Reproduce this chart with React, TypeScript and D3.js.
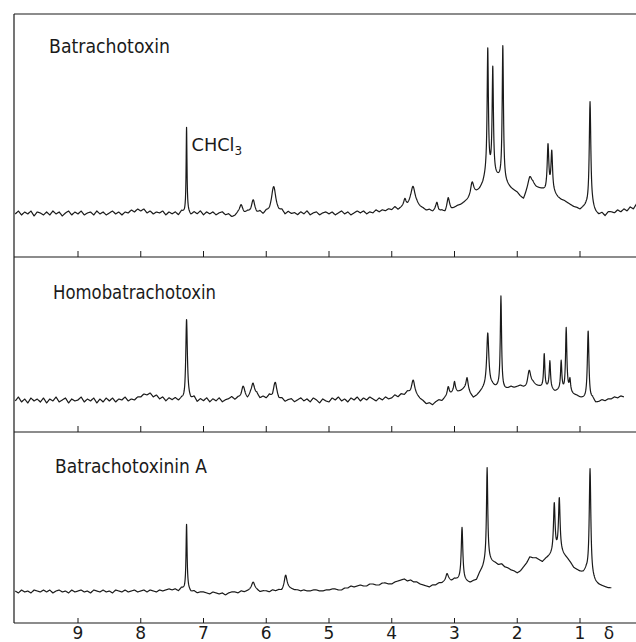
import React, { useMemo } from 'react';
import * as d3 from 'd3';

const WIDTH = 636;
const HEIGHT = 642;

// chemical shift axis (ppm, delta)
const ppmTicks = [9, 8, 7, 6, 5, 4, 3, 2, 1];
const BASE_START = 10.0;
const BASE_STEP = 0.05;

// baselines (with their noise), ppm 10.0 downwards in 0.05 steps
const btxBaseline = [
  1, 4, 0, 3, 1, 4, -1, 3, 2, 0,
  3, 0, 4, 1, 3, -1, 2, 4, 0, 3,
  1, 4, 0, 2, 3, 0, 4, 1, 3, 0,
  2, 4, 1, 3, 0, 3, 2, 5, 3, 6,
  4, 6, 2, 4, 1, 3, 2, 4, 0, 3,
  1, 3, 0, 4, 2, 3, 0, 3, 1, 4,
  0, 3, 1, 3, 0, 2, 3, 0, 1, -2,
  -1, 2, 3, 1, 3, 2, 4, 1, 3, 0,
  3, 2, 5, 3, 2, 4, 0, 3, 1, 2,
  0, 3, 1, 4, 0, 2, 3, 0, 2, 3,
  1, 3, 0, 2, 4, 1, 3, 0, 2, 4,
  2, 4, 1, 3, 2, 5, 3, 5, 4, 6,
  5, 8, 5, 7, 9, 8, 10, 8, 9, 7,
  6, 4, 5, 3, 5, 3, 4, 2, 7, 5,
  7, 9, 10, 12, 14, 16, 20, 22, 25, 30,
  38, 40, 42, 38, 36, 34, 32, 29, 26, 24,
  22, 18, 15, 22, 28, 30, 27, 26, 25, 23,
  24, 22, 20, 17, 15, 14, 12, 10, 8, 7,
  5, 7, 8, 5, 6, 2, 0, 2, -1, 3,
  3, 2, 5, 3, 6, 4, 8, 6, 11,
];
const homoBaseline = [
  1, 5, 0, 3, -1, 4, 1, 3, 0, 4,
  -1, 3, 1, 5, 0, 2, 4, -1, 3, 1,
  2, 5, 0, 3, 1, 4, -1, 3, 0, 4,
  1, 4, 0, 3, 2, 5, 1, 3, 2, 5,
  5, 8, 7, 9, 5, 7, 3, 5, 1, 4,
  2, 4, 1, 3, 0, 4, 2, 5, 0, 3,
  1, 4, 0, 3, 1, 4, 0, 2, 3, 5,
  2, 4, 3, 5, 2, 6, 4, 7, 3, 5,
  3, 6, 2, 5, 1, 3, 0, 2, 3, 0,
  2, 4, 1, 3, 0, 4, 2, -1, 3, 1,
  0, 4, 2, 5, 1, 3, 0, 4, 2, 5,
  1, 4, 2, 5, 3, 1, 4, 2, 5, 3,
  4, 7, 5, 8, 7, 10, 8, 9, 6, 3,
  1, -2, -1, -3, 0, 2, 1, 4, 5, 8,
  12, 10, 11, 13, 14, 8, 4, 6, 9, 12,
  14, 15, 16, 14, 14, 12, 12, 13, 15, 14,
  15, 16, 14, 13, 16, 18, 16, 15, 14, 13,
  14, 12, 10, 11, 12, 10, 12, 9, 7, 6,
  4, 3, 2, 0, 3, -1, 0, 2, 1, 3,
  3, 5, 4, 6, 5,
];
const btxABaseline = [
  2, 0, 3, 1, 2, 0, 3, 2, 1, 3,
  1, 3, 0, 2, 3, 1, 2, 0, 3, 1,
  2, 3, 1, 2, 0, 3, 2, 1, 3, 1,
  2, 0, 3, 2, 1, 3, 1, 2, 3, 1,
  2, 3, 1, 3, 2, 1, 3, 2, 3, 4,
  3, 4, 2, 5, 3, 4, 1, 2, 0, 1,
  1, 0, -1, 1, 0, -1, 0, -2, 0, 1,
  1, 0, 2, 1, 2, 3, 4, 3, 1, 2,
  2, 1, 3, 2, 3, 2, 6, 5, 4, 3,
  3, 2, 3, 2, 2, 3, 3, 2, 2, 3,
  3, 4, 4, 3, 3, 5, 5, 7, 6, 7,
  8, 7, 7, 9, 9, 8, 8, 10, 10, 9,
  9, 11, 12, 13, 14, 12, 13, 11, 11, 9,
  8, 7, 6, 8, 8, 10, 10, 12, 14, 12,
  14, 13, 13, 12, 11, 10, 12, 13, 20, 25,
  32, 33, 31, 30, 28, 29, 26, 25, 23, 22,
  20, 22, 26, 30, 36, 35, 35, 33, 31, 34,
  36, 38, 40, 41, 40, 37, 34, 30, 25, 23,
  21, 20, 22, 18, 14, 10, 8, 7, 6, 5,
  5,
];

// peaks: [ppm, height above baseline, half width (ppm)]
const btxPeaks = [
  [7.27, 85, 0.008], [6.4, 7, 0.03], [6.21, 11, 0.03], [5.88, 24, 0.04],
  [3.79, 6, 0.02], [3.66, 20, 0.04], [3.28, 8, 0.02], [3.1, 10, 0.025],
  [2.72, 14, 0.03], [2.47, 125, 0.012], [2.39, 104, 0.012], [2.23, 135, 0.012],
  [1.8, 10, 0.04], [1.51, 45, 0.015], [1.45, 40, 0.015], [0.84, 108, 0.015],
];
const homoPeaks = [
  [7.27, 80, 0.015], [6.37, 11, 0.03], [6.21, 14, 0.03], [5.86, 15, 0.035],
  [3.66, 13, 0.03], [3.1, 10, 0.02], [3.0, 8, 0.015], [2.8, 10, 0.02],
  [2.47, 54, 0.02], [2.26, 93, 0.012], [1.81, 16, 0.03], [1.57, 34, 0.012],
  [1.48, 27, 0.012], [1.3, 28, 0.012], [1.22, 62, 0.012], [1.16, 12, 0.012],
  [0.87, 70, 0.015],
];
const btxAPeaks = [
  [7.27, 65, 0.01], [6.21, 7, 0.03], [5.69, 12, 0.025], [3.12, 6, 0.02],
  [2.88, 53, 0.015], [2.48, 93, 0.012], [1.41, 49, 0.015], [1.33, 53, 0.015],
  [0.84, 107, 0.015],
];

const spectrumNames = ['Batrachotoxin', 'Homobatrachotoxin', 'Batrachotoxinin A'];
const baselines = [btxBaseline, homoBaseline, btxABaseline];
const peakLists = [btxPeaks, homoPeaks, btxAPeaks];

// panel geometry
const panels = [
  { top: 14, bottom: 257, base: 215, labelX: 49, labelY: 53, labelLen: 121 },
  { top: 257, bottom: 432, base: 402, labelX: 53, labelY: 299, labelLen: 163 },
  { top: 432, bottom: 623, base: 593, labelX: 55, labelY: 473, labelLen: 152 },
];

const LEFT = 14;
const INK = '#1a1a1a';
const FONT = '"DejaVu Sans", sans-serif';

function buildTrace(baseline: number[], peaks: number[][]) {
  const end = BASE_START - (baseline.length - 1) * BASE_STEP;
  const grid: number[] = [];
  const n = Math.round((BASE_START - end) / 0.004);
  for (let k = 0; k <= n; k++) grid.push(BASE_START - k * 0.004);
  peaks.forEach(p => grid.push(p[0]));
  grid.sort((a, b) => b - a);
  return grid.map(ppm => {
    const f = (BASE_START - ppm) / BASE_STEP;
    const i = Math.max(0, Math.min(Math.floor(f), baseline.length - 2));
    const t = f - i;
    let v = baseline[i] * (1 - t) + baseline[i + 1] * t;
    for (const [c, h, w] of peaks) v += h / (1 + ((ppm - c) / w) ** 2);
    return [ppm, v] as [number, number];
  });
}

export default function App() {
  const x = d3.scaleLinear().domain([9, 1]).range([78, 580]);

  const traces = useMemo(
    () => baselines.map((b, i) => buildTrace(b, peakLists[i])),
    []
  );

  return (
    <svg
      width={WIDTH}
      height={HEIGHT}
      style={{ position: 'absolute', left: 0, top: 0, background: '#fff' }}
    >
      <rect width={WIDTH} height={HEIGHT} fill="#fff" />

      {/* frame */}
      <line x1={LEFT} x2={WIDTH} y1={14} y2={14} stroke={INK} strokeWidth={1.2} />
      <line x1={LEFT} x2={LEFT} y1={14} y2={623} stroke={INK} strokeWidth={1.2} />

      {panels.map((p, i) => {
        const y = d3.scaleLinear().domain([0, 150]).range([p.base, p.base - 150]);
        const line = d3
          .line<[number, number]>()
          .x(d => x(d[0]))
          .y(d => y(d[1]));
        const isAxis = i === panels.length - 1;
        return (
          <g key={i}>
            <line x1={LEFT} x2={WIDTH} y1={p.bottom} y2={p.bottom} stroke={INK} strokeWidth={1.2} />
            {ppmTicks.map(t => (
              <line
                key={t}
                x1={x(t)}
                x2={x(t)}
                y1={p.bottom}
                y2={p.bottom - (isAxis ? 5 : 6)}
                stroke={INK}
                strokeWidth={1}
              />
            ))}
            <path d={line(traces[i]) || ''} fill="none" stroke={INK} strokeWidth={1.2} strokeLinejoin="round" />
            <text
              x={p.labelX}
              y={p.labelY}
              fontFamily={FONT}
              fontSize={19}
              fill={INK}
              textLength={p.labelLen}
              lengthAdjust="spacingAndGlyphs"
            >
              {spectrumNames[i]}
            </text>
          </g>
        );
      })}

      {/* solvent label */}
      <text x={x(7.27) + 5} y={151} fontFamily={FONT} fontSize={18} fill={INK}>
        <tspan textLength={43} lengthAdjust="spacingAndGlyphs">CHCl</tspan>
        <tspan fontSize={12} dy={4}>3</tspan>
      </text>

      {/* axis labels */}
      {ppmTicks.map(t => (
        <text
          key={t}
          x={x(t)}
          y={639}
          textAnchor="middle"
          fontFamily={FONT}
          fontSize={17}
          fill={INK}
        >
          {t}
        </text>
      ))}
      <text x={x(0.54)} y={639} textAnchor="middle" fontFamily={FONT} fontSize={17} fill={INK}>
        δ
      </text>
    </svg>
  );
}
